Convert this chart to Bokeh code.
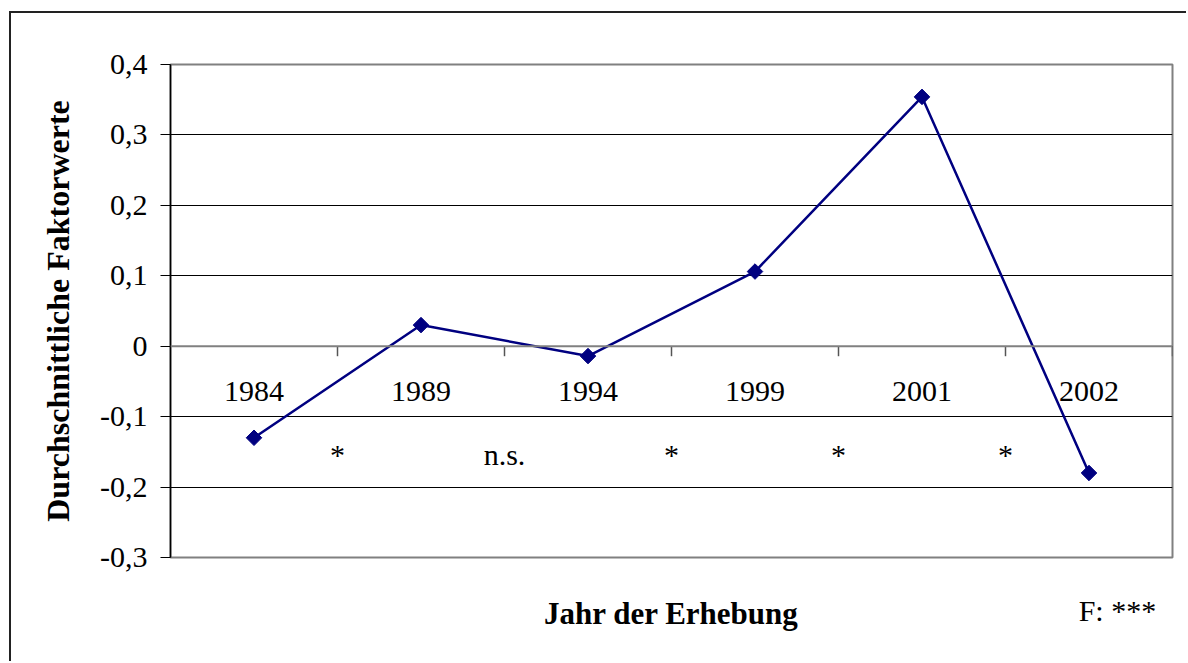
import math
from bokeh.plotting import figure
from bokeh.models import Range1d, FixedTicker, CustomJSTickFormatter, Span
from bokeh.core.properties import value
from bokeh.embed import file_html
from bokeh.resources import INLINE

# ---- data ----
years = ["1984", "1989", "1994", "1999", "2001", "2002"]
factor_means = [-0.13, 0.03, -0.014, 0.106, 0.354, -0.180]
sig_labels = ["*", "n.s.", "*", "*", "*"]
y_ticks = [-0.3, -0.2, -0.1, 0.0, 0.1, 0.2, 0.3, 0.4]
y_axis_title = "Durchschnittliche Faktorwerte"
x_axis_title = "Jahr der Erhebung"
f_test = "F: ***"

n = len(years)
xs = [i + 0.5 for i in range(n)]
between = [i for i in range(1, n)]
boundaries = [i for i in range(1, n + 1)]
f_pos = n - 0.33   # horizontal place of the F-test note (category units)

FONT = "Liberation Serif"
NAVY = "#000080"

p = figure(width=1177, height=650,
           x_range=Range1d(0, n), y_range=Range1d(min(y_ticks), max(y_ticks)),
           output_backend="svg", toolbar_location=None,
           min_border_left=159, min_border_right=16,
           min_border_top=51, min_border_bottom=106)
p.styles = {"border-top": "2px solid #222", "border-left": "2px solid #222",
            "margin-top": "11px", "margin-left": "9px"}

# bottom axis: carries the F-test note as its only tick label, and the title
xa = p.xaxis[0]
xa.ticker = FixedTicker(ticks=[f_pos])
xa.formatter = CustomJSTickFormatter(args=dict(t=f_test), code="return t;")
xa.axis_line_color = None
xa.major_tick_line_color = None
xa.minor_tick_line_color = None
xa.major_tick_out = 0
xa.major_tick_in = 0
xa.major_label_standoff = 36
xa.major_label_text_font = FONT
xa.major_label_text_font_size = "30px"
xa.major_label_text_color = "black"
xa.axis_label = x_axis_title
xa.axis_label_text_font = FONT
xa.axis_label_text_font_style = "bold"
xa.axis_label_text_font_size = "31px"
xa.axis_label_text_color = "black"
xa.axis_label_standoff = -34

p.xgrid.visible = False
p.ygrid.ticker = FixedTicker(ticks=y_ticks)
p.ygrid.grid_line_color = "black"
p.ygrid.grid_line_width = 1
p.outline_line_color = "#808080"
p.outline_line_width = 2

ax = p.yaxis[0]
ax.ticker = FixedTicker(ticks=y_ticks)
ax.formatter = CustomJSTickFormatter(code="""
if (Math.abs(tick) < 1e-9) { return '0'; }
return tick.toFixed(1).replace('.', ',');
""")
ax.major_tick_out = 10
ax.major_tick_in = 0
ax.minor_tick_line_color = None
ax.axis_line_color = "black"
ax.axis_line_width = 1.5
ax.major_tick_line_color = "black"
ax.major_label_text_font = FONT
ax.major_label_text_font_size = "30px"
ax.major_label_text_color = "black"
ax.major_label_standoff = 13
ax.axis_label = y_axis_title
ax.axis_label_text_font = FONT
ax.axis_label_text_font_style = "bold"
ax.axis_label_text_font_size = "32px"
ax.axis_label_text_color = "black"
ax.axis_label_standoff = 21

# category axis crossing at zero
p.add_layout(Span(location=0, dimension="width", line_color="#808080", line_width=2))
tick_len = 10 * (max(y_ticks) - min(y_ticks)) / 493
p.segment(x0=boundaries, y0=[0] * len(boundaries), x1=boundaries,
          y1=[-tick_len] * len(boundaries), line_color="#555555", line_width=1.5)

p.text(x=xs, y=[0] * n, text=years, y_offset=45, text_align="center",
       text_baseline="alphabetic", text_font=value(FONT), text_font_size="30px",
       text_color="black")
p.text(x=between, y=[0] * len(between), text=sig_labels, y_offset=108,
       text_align="center", text_baseline="alphabetic", text_font=value(FONT),
       text_font_size="30px", text_color="black")

# series
p.line(xs, factor_means, line_color=NAVY, line_width=2.5)
p.scatter(xs, factor_means, marker="square", angle=math.pi / 4, size=11,
          fill_color=NAVY, line_color=NAVY)

open("out.html", "w").write(file_html(p, INLINE))
